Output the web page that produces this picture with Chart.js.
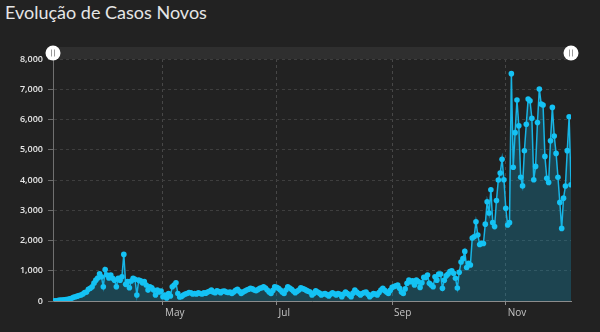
<!DOCTYPE html>
<html>
<head>
<meta charset="utf-8">
<script src="https://cdn.jsdelivr.net/npm/chart.js@4.4.0/dist/chart.umd.min.js"></script>
<style>
  html, body { margin: 0; padding: 0; background: #222222; }
  #wrap { position: relative; width: 600px; height: 332px; overflow: hidden; }
  #title { position: absolute; left: 5px; top: 1px; font-family: Lato, "Open Sans", sans-serif; font-size: 18px; font-weight: 400; color: #e6e6e6; white-space: nowrap; }
  canvas { position: absolute; left: 0; top: 0; }
</style>
</head>
<body>
<div id="wrap">
  <div id="title">Evolução de Casos Novos</div>
  <canvas id="c" width="600" height="332"></canvas>
</div>
<script>
// Daily new cases, starting 2020-03-03
const startDate = '2020-03-03';
const casos = [
  1,5,10,20,30,35,40,50,60,75,90,120,140,160,180,
  200,230,280,300,390,420,
  470,590,690,760,900,800,470,
  1040,860,760,860,750,690,470,
  750,690,800,1540,550,640,440,
  660,750,720,200,690,670,600,
  640,530,360,470,440,360,200,
  360,300,330,140,200,100,250,
  165,470,530,600,250,130,150,
  200,230,250,280,270,230,250,
  230,275,250,230,275,260,300,
  320,360,300,275,340,310,275,
  320,330,300,280,300,250,300,
  350,390,320,250,300,330,360,
  390,420,400,360,340,380,420,
  440,470,430,360,300,250,350,
  470,450,420,360,300,250,360,
  470,430,390,330,275,320,360,
  440,410,390,350,320,300,200,
  250,340,300,260,200,230,250,
  210,165,230,275,240,200,250,
  220,140,230,300,250,200,140,
  260,360,300,250,200,250,280,
  300,220,140,200,250,230,200,
  280,360,420,350,300,250,350,
  450,480,500,530,420,300,250,
  400,585,690,640,670,530,690,
  640,450,600,780,780,860,585,
  530,470,800,690,890,890,420,
  690,830,890,970,1000,915,750,
  430,950,1290,1400,1640,1105,1245,
  1190,2080,2125,2620,2180,1870,1905,
  1900,2540,3280,2910,3680,2590,2460,
  3320,4000,4230,4685,4010,3065,2510,
  2590,7515,4420,5565,6645,5790,4090,
  3805,4965,5845,6675,6620,6040,4010,
  4450,5900,7010,6510,6480,4780,4060,
  3920,5300,6400,5455,4880,4090,3260,
  2400,3400,3800,4970,6090,3845
];
const monthTickDates = ['2020-05-01', '2020-07-01', '2020-09-01', '2020-11-01'];
const monthLabels = ['May', 'Jul', 'Sep', 'Nov'];
const yTicks = [0, 1000, 2000, 3000, 4000, 5000, 6000, 7000, 8000];

const DAY = 86400000;
const dayIndex = d => Math.round((Date.parse(d) - Date.parse(startDate)) / DAY);
const monthTickIdx = monthTickDates.map(dayIndex);
const points = casos.map((v, i) => ({ x: i, y: v }));

const scrollbarPlugin = {
  id: 'scrollbar',
  afterDraw(chart) {
    const { ctx, chartArea: a } = chart;
    ctx.save();
    ctx.fillStyle = '#2f2f2f';
    ctx.fillRect(a.left, a.top - 12, a.right - a.left, 12);
    const cy = a.top - 6;
    [a.left, a.right].forEach(x => {
      ctx.beginPath();
      ctx.arc(x, cy, 7.5, 0, Math.PI * 2);
      ctx.fillStyle = '#ffffff';
      ctx.fill();
      ctx.strokeStyle = '#9a9a9a';
      ctx.lineWidth = 1;
      ctx.beginPath();
      ctx.moveTo(x - 1.5, cy - 3.5); ctx.lineTo(x - 1.5, cy + 3.5);
      ctx.moveTo(x + 1.5, cy - 3.5); ctx.lineTo(x + 1.5, cy + 3.5);
      ctx.stroke();
    });
    ctx.restore();
  }
};

new Chart(document.getElementById('c'), {
  type: 'line',
  data: {
    datasets: [{
      data: points,
      borderColor: '#18b4e4',
      backgroundColor: 'rgba(20,150,190,0.30)',
      borderWidth: 1.5,
      pointRadius: 2.8,
      pointBackgroundColor: '#14c2f4',
      pointBorderWidth: 0,
      fill: 'origin',
      tension: 0
    }]
  },
  options: {
    responsive: false,
    devicePixelRatio: 1,
    animation: false,
    layout: { padding: { top: 59, right: 29, bottom: 0, left: 0 } },
    plugins: { legend: { display: false }, tooltip: { enabled: false }, title: { display: false } },
    scales: {
      x: {
        type: 'linear',
        min: 0,
        max: casos.length - 1,
        afterBuildTicks: s => { s.ticks = monthTickIdx.map(v => ({ value: v })); },
        afterFit: s => { s.height = 31; },
        ticks: {
          autoSkip: false,
          align: 'start',
          labelOffset: 2,
          padding: 2,
          color: '#c4c4c4',
          font: { family: '"Open Sans", sans-serif', size: 10 },
          callback: v => { const k = monthTickIdx.indexOf(v); return k >= 0 ? monthLabels[k] : ''; }
        },
        grid: { color: '#474747', tickColor: '#8a8a8a', tickLength: 4, tickBorderDash: [] },
        border: { display: true, color: '#8c8c8c', width: 1, dash: [3, 3] }
      },
      y: {
        min: 0,
        max: 8000,
        afterBuildTicks: s => { s.ticks = yTicks.map(v => ({ value: v })); },
        afterFit: s => { s.width = 53; },
        ticks: {
          padding: 5,
          color: '#e6e6e6',
          font: { family: '"Open Sans", sans-serif', size: 9, weight: '600' },
          callback: v => v.toLocaleString('en-US')
        },
        grid: { color: '#3e3e3e', tickColor: '#6a6a6a', tickLength: 5, tickBorderDash: [] },
        border: { display: true, color: '#707070', width: 1, dash: [3, 3] }
      }
    }
  },
  plugins: [scrollbarPlugin]
});
</script>
</body>
</html>
